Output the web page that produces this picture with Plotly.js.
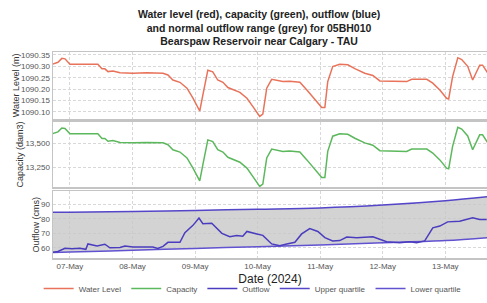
<!DOCTYPE html>
<html><head><meta charset="utf-8">
<script src="https://cdn.plot.ly/plotly-3.0.1.min.js"></script>
<style>html,body{margin:0;padding:0;background:#fff}#c{width:487px;height:303px}</style>
</head><body><div id="c"></div>
<script>
const levelTimes = ['2024-05-06 17:06','2024-05-06 19:24','2024-05-06 20:54','2024-05-06 22:06','2024-05-07 00:00','2024-05-07 05:00','2024-05-07 10:42','2024-05-07 12:18','2024-05-07 13:24','2024-05-07 14:36','2024-05-07 16:30','2024-05-07 19:12','2024-05-08 00:12','2024-05-08 05:30','2024-05-08 11:42','2024-05-08 13:36','2024-05-08 15:30','2024-05-08 18:12','2024-05-08 20:54','2024-05-08 23:12','2024-05-09 00:42','2024-05-09 01:48','2024-05-09 03:00','2024-05-09 04:54','2024-05-09 06:48','2024-05-09 08:42','2024-05-09 10:42','2024-05-09 12:36','2024-05-09 17:12','2024-05-09 19:54','2024-05-09 22:12','2024-05-10 00:48','2024-05-10 02:00','2024-05-10 03:30','2024-05-10 05:24','2024-05-10 09:42','2024-05-10 12:18','2024-05-10 16:12','2024-05-10 18:54','2024-05-10 21:54','2024-05-11 00:36','2024-05-11 01:48','2024-05-11 02:54','2024-05-11 04:48','2024-05-11 07:30','2024-05-11 10:36','2024-05-11 13:18','2024-05-11 17:06','2024-05-11 20:12','2024-05-11 22:54','2024-05-12 05:24','2024-05-12 09:12','2024-05-12 11:06','2024-05-12 16:54','2024-05-12 19:12','2024-05-12 21:54','2024-05-13 00:30','2024-05-13 01:18','2024-05-13 02:48','2024-05-13 04:48','2024-05-13 06:18','2024-05-13 08:36','2024-05-13 10:30','2024-05-13 13:12','2024-05-13 14:18','2024-05-13 16:18'];
const waterLevel = [1090.309,1090.318,1090.335,1090.333,1090.309,1090.309,1090.309,1090.289,1090.289,1090.277,1090.280,1090.272,1090.270,1090.272,1090.270,1090.262,1090.240,1090.230,1090.204,1090.160,1090.131,1090.104,1090.175,1090.283,1090.276,1090.240,1090.230,1090.207,1090.186,1090.160,1090.123,1090.080,1090.090,1090.204,1090.243,1090.233,1090.235,1090.230,1090.196,1090.153,1090.119,1090.119,1090.233,1090.299,1090.309,1090.307,1090.290,1090.270,1090.260,1090.236,1090.233,1090.233,1090.243,1090.243,1090.226,1090.196,1090.160,1090.157,1090.255,1090.338,1090.330,1090.300,1090.240,1090.305,1090.305,1090.270];
const capacity = [13601,13622,13663,13658,13601,13601,13601,13553,13553,13524,13531,13512,13507,13512,13507,13488,13435,13411,13349,13243,13173,13109,13279,13538,13521,13435,13411,13356,13305,13243,13154,13051,13075,13349,13442,13418,13423,13411,13329,13226,13145,13145,13418,13577,13601,13596,13555,13507,13483,13425,13418,13418,13442,13442,13401,13329,13243,13236,13471,13670,13651,13579,13435,13591,13591,13507];

const flowTimes = ['2024-05-06 17:30','2024-05-06 19:24','2024-05-06 22:06','2024-05-07 00:48','2024-05-07 03:48','2024-05-07 06:06','2024-05-07 06:54','2024-05-07 10:24','2024-05-07 13:24','2024-05-07 15:18','2024-05-07 19:12','2024-05-07 21:06','2024-05-08 00:12','2024-05-08 04:00','2024-05-08 07:48','2024-05-08 09:42','2024-05-08 11:42','2024-05-08 13:36','2024-05-08 18:12','2024-05-08 20:06','2024-05-08 23:12','2024-05-09 01:30','2024-05-09 03:00','2024-05-09 06:24','2024-05-09 10:18','2024-05-09 13:18','2024-05-09 16:00','2024-05-09 18:18','2024-05-09 19:54','2024-05-09 23:42','2024-05-10 02:00','2024-05-10 05:24','2024-05-10 08:30','2024-05-10 11:12','2024-05-10 14:18','2024-05-10 16:54','2024-05-10 20:00','2024-05-10 23:06','2024-05-11 01:48','2024-05-11 04:48','2024-05-11 07:30','2024-05-11 10:12','2024-05-11 14:00','2024-05-11 20:12','2024-05-11 22:54','2024-05-12 01:30','2024-05-12 06:30','2024-05-12 10:24','2024-05-12 13:00','2024-05-12 16:06','2024-05-12 19:12','2024-05-12 21:54','2024-05-13 00:54','2024-05-13 05:30','2024-05-13 10:30','2024-05-13 13:12','2024-05-13 15:54'];
const outflow = [57.0,57.5,59.7,59.3,59.7,59.0,62.7,61.3,62.5,60.0,60.2,61.2,60.5,60.3,60.5,59.5,61.0,63.8,63.8,70.5,75.5,80.6,76.6,77.0,70.0,67.7,68.5,68.0,71.3,69.6,68.6,62.7,61.5,62.7,63.8,69.6,73.3,71.3,67.0,64.8,65.0,67.4,67.0,67.6,65.8,64.2,63.5,64.2,63.5,64.8,73.8,75.0,77.9,78.4,80.7,79.5,79.5];

const quartileTimes = ['2024-05-06 17:30','2024-05-07 00:00','2024-05-08 00:00','2024-05-09 00:00','2024-05-10 00:00','2024-05-11 00:00','2024-05-12 00:00','2024-05-13 00:00','2024-05-13 16:00'];
const upperQuartile = [84.5,84.6,85.0,85.8,86.6,87.5,89.5,92.5,95.2];
const lowerQuartile = [56.8,57.2,58.3,59.6,60.8,62.0,63.5,65.0,67.0];

const fam = 'Liberation Sans, Arial, sans-serif';
const tickFont = {family:fam, size:8, color:'#555'};
const titleFont = {family:fam, size:9, color:'#333'};
const xRange = ['2024-05-06 17:30','2024-05-13 16:00'];
const gridCol = '#d8d8d8';
const lineCol = '#c4c4c4';

const tLevel = {x:levelTimes, y:waterLevel, name:'Water Level', type:'scatter', mode:'lines', line:{color:'#e8735a', width:1.5}, xaxis:'x', yaxis:'y', legendrank:1};
const tCap = {x:levelTimes, y:capacity, name:'Capacity', type:'scatter', mode:'lines', line:{color:'#5cb85c', width:1.5}, xaxis:'x2', yaxis:'y2', legendrank:2};
const tUpper = {x:quartileTimes, y:upperQuartile, name:'Upper quartile', type:'scatter', mode:'lines', line:{color:'#5446c8', width:1.5, shape:'spline'}, xaxis:'x3', yaxis:'y3', legendrank:4};
const tBand = {x:quartileTimes, y:lowerQuartile, name:'Normal range', showlegend:false, type:'scatter', mode:'lines', line:{width:0, shape:'spline'}, fill:'tonexty', fillcolor:'rgba(200,200,200,0.8)', xaxis:'x3', yaxis:'y3', hoverinfo:'skip'};
const tLower = {x:quartileTimes, y:lowerQuartile, name:'Lower quartile', type:'scatter', mode:'lines', line:{color:'#6152d0', width:1.5, shape:'spline'}, xaxis:'x3', yaxis:'y3', legendrank:5};
const tFlow = {x:flowTimes, y:outflow, name:'Outflow', type:'scatter', mode:'lines', line:{color:'#4a3cbf', width:1.5}, xaxis:'x3', yaxis:'y3', legendrank:3};

function xa(show, anchor){
  return {type:'date', range:xRange, domain:[0,1], anchor:anchor, showgrid:true, gridcolor:gridCol, griddash:'3px,2px',
    tickformat:'%d-%b', dtick:86400000, tick0:'2024-05-07', showticklabels:show, ticks:'', tickfont:tickFont,
    showline:true, mirror:true, linecolor:lineCol, linewidth:1.5, zeroline:false};
}
function ya(dom, range, dtick, fmt, title, anchor){
  return {domain:dom, range:range, dtick:dtick, tickformat:fmt, anchor:anchor, showgrid:true, gridcolor:gridCol, griddash:'3px,2px',
    tickfont:tickFont, ticks:'', showline:true, mirror:true, linecolor:lineCol, linewidth:1.5, zeroline:false,
    title:{text:title, font:titleFont, standoff:0}};
}
const layout = {
  width:487, height:303, margin:{l:53, r:0, t:52, b:44}, paper_bgcolor:'#fff', plot_bgcolor:'#fff',
  title:{text:'<b>Water level (red), capacity (green), outflow (blue)<br>and normal outflow range (grey) for 05BH010<br>Bearspaw Reservoir near Calgary - TAU</b>',
    font:{family:fam, size:10.5, color:'#222'}, x:0.532, xanchor:'center', y:0.94, yanchor:'middle'},
  showlegend:true,
  legend:{orientation:'h', traceorder:'normal', x:0.46, xanchor:'center', y:-0.15, yanchor:'middle', font:{family:fam, size:8, color:'#555'}, itemwidth:30, tracegroupgap:0},
  xaxis:xa(false,'y'), xaxis2:Object.assign(xa(false,'y2'),{matches:'x'}),
  xaxis3:Object.assign(xa(true,'y3'),{matches:'x', title:{text:'Date (2024)', font:{family:fam, size:12, color:'#222'}, standoff:4}}),
  yaxis:ya([0.676,1],[1090.07,1090.363],0.05,'.2f','Water Level (m)','x'),
  yaxis2:ya([0.343,0.662],[13042,13729],250,',','Capacity (dam3)','x2'),
  yaxis3:ya([0,0.324],[53,99],10,'d','Outflow (cms)','x3')
};
Plotly.newPlot('c', [tLevel, tCap, tUpper, tBand, tLower, tFlow], layout, {displayModeBar:false, staticPlot:true});
</script></body></html>
